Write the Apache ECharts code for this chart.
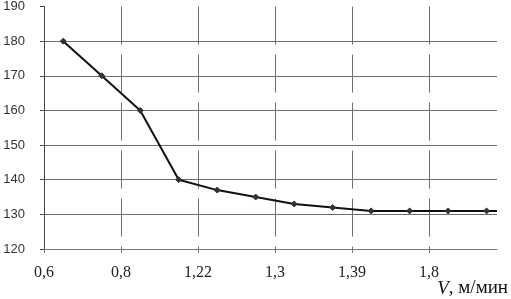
<!DOCTYPE html>
<html>
<head>
<meta charset="utf-8">
<script src="https://cdn.jsdelivr.net/npm/echarts@6/dist/echarts.min.js"></script>
<style>html,body{margin:0;padding:0;background:#fff}#c{width:511px;height:299px}</style>
</head>
<body>
<div id="c"></div>
<script>
// Speed values (category tick labels, shown every second point)
const tickLabels = ['0,6', '0,8', '1,22', '1,3', '1,39', '1,8'];
// Series values (one per measured point)
const yValues = [180, 170, 160, 140, 137, 135, 133, 132, 131, 131, 131, 131];
// line continues to the right edge of the plot at this level
const tailValue = 131;
const yTicks = [120, 130, 140, 150, 160, 170, 180, 190];

const xMax = 11.77;
const data = yValues.map((v, i) => [i + 0.5, v]);
data.push({ value: [xMax, tailValue], symbol: 'none' });

const chart = echarts.init(document.getElementById('c'), null, { renderer: 'canvas' });
chart.setOption({
  animation: false,
  backgroundColor: '#fff',
  grid: { left: 44, right: 14, top: 4, bottom: 50 },
  xAxis: {
    type: 'value',
    min: 0,
    max: xMax,
    interval: 2,
    axisLine: { show: true, lineStyle: { color: '#777', width: 1 } },
    axisTick: { show: true, length: 4, lineStyle: { color: '#777' } },
    axisLabel: {
      margin: 16,
      fontFamily: 'Liberation Serif',
      fontSize: 16,
      color: '#222',
      showMaxLabel: false,
      formatter: v => {
        const k = Math.round(v / 2);
        return Math.abs(v - k * 2) < 1e-6 && tickLabels[k] !== undefined ? tickLabels[k] : '';
      }
    },
    splitLine: {
      show: true,
      showMinLine: false,
      showMaxLine: false,
      lineStyle: { color: '#6e6e6e', width: 1, type: [38, 10] }
    }
  },
  yAxis: {
    type: 'value',
    min: yTicks[0],
    max: yTicks[yTicks.length - 1],
    interval: 10,
    axisLine: { show: true, lineStyle: { color: '#444', width: 1 } },
    axisTick: { show: true, length: 4, lineStyle: { color: '#444' } },
    axisLabel: {
      margin: 19,
      fontFamily: 'Liberation Sans',
      fontSize: 13,
      color: '#333'
    },
    splitLine: {
      show: true,
      showMinLine: false,
      showMaxLine: false,
      lineStyle: { color: '#6e6e6e', width: 1 }
    }
  },
  series: [{
    type: 'line',
    data: data,
    symbol: 'diamond',
    symbolSize: 6,
    lineStyle: { color: '#111', width: 2 },
    itemStyle: { color: '#333', borderColor: '#333' },
    clip: false
  }],
  graphic: [{
    type: 'text',
    right: 3,
    top: 279,
    style: {
      text: '{i|V}, м/мин',
      fill: '#111',
      font: '19px "Liberation Serif"',
      rich: {
        i: { fontStyle: 'italic', fontFamily: 'Liberation Serif', fontSize: 19, fill: '#111' }
      }
    }
  }]
});
</script>
</body>
</html>
